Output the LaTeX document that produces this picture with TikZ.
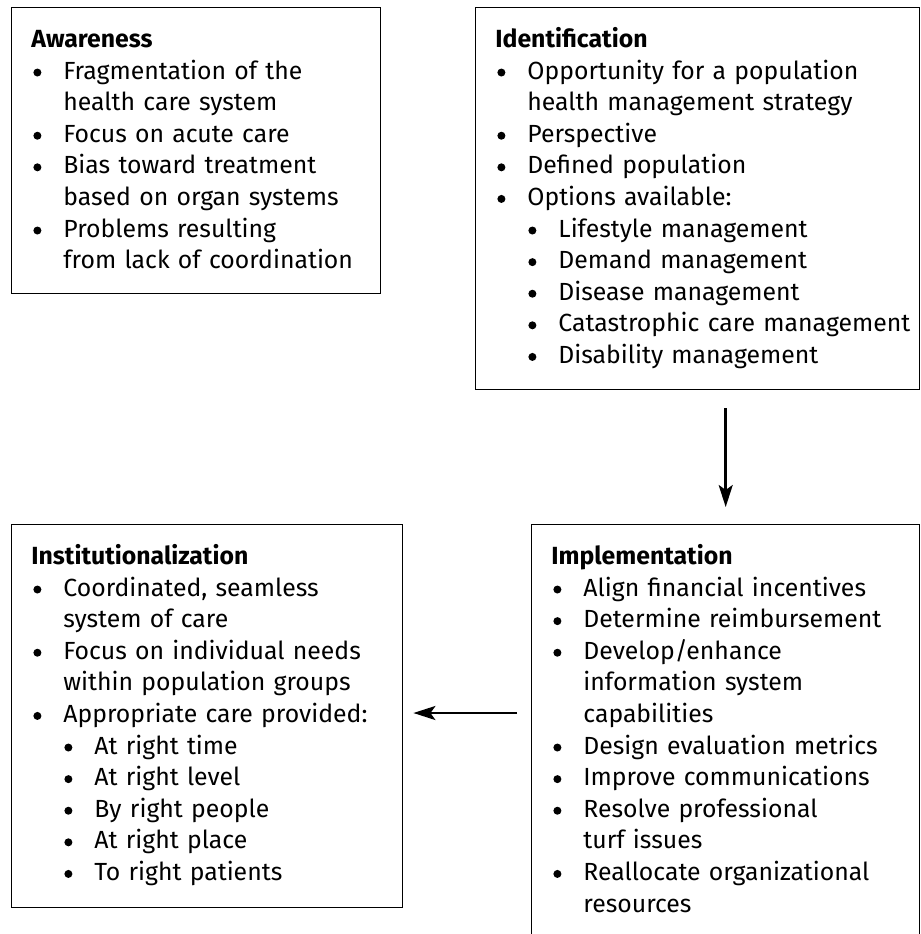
\documentclass[tikz,border=0pt]{standalone}
\usepackage{fontspec}
\setmainfont{Fira Sans}
\usetikzlibrary{arrows.meta}

\newcommand\bdot{\raisebox{1.3pt}{\tikz\fill (0,0) circle (2pt);}}
\newcommand\hd[1]{\noindent\strut\textbf{#1}\par}
\newcommand\bl[1]{\hangindent=16pt\hangafter=1\noindent\makebox[16pt][l]{\hspace{1pt}\bdot}#1\par}
\newcommand\sbl[1]{\hangindent=31.5pt\hangafter=1\noindent\hspace{15.5pt}\makebox[16pt][l]{\hspace{1pt}\bdot}#1\par}

\begin{document}
\begin{tikzpicture}[x=0.5pt,y=-0.5pt,
    box/.style={draw, line width=0.7pt, inner sep=0pt, anchor=north west},
    txt/.style={anchor=north west, inner sep=0pt, text width=250pt, align=left,
        font=\fontsize{12.4}{15.8}\selectfont},
    arr/.style={line width=1.3pt, -{Stealth[length=11pt,width=7pt,inset=2.5pt]}}]

    \useasboundingbox (0,0) rectangle (921,934);

    % the four boxes
    \node[box, minimum width=184.5pt, minimum height=143pt] (aware) at (11,7) {};
    \node[box, minimum width=222pt, minimum height=191pt] (ident) at (475,7) {};
    \node[box, minimum width=195.5pt, minimum height=191.5pt] (inst) at (11,524) {};
    \node[box, minimum width=194pt, minimum height=240pt] (impl) at (531,524) {};

    \node[txt] (aware-txt) at (31,25) {%
        \hd{Awareness}
        \bl{Fragmentation of the\newline health care system}
        \bl{Focus on acute care}
        \bl{Bias toward treatment\newline based on organ systems}
        \bl{Problems resulting\newline from lack of coordination}};

    \node[txt] (ident-txt) at (495,25) {%
        \hd{Identification}
        \bl{Opportunity for a population\newline health management strategy}
        \bl{Perspective}
        \bl{Defined population}
        \bl{Options available:}
        \sbl{Lifestyle management}
        \sbl{Demand management}
        \sbl{Disease management}
        \sbl{Catastrophic care management}
        \sbl{Disability management}};

    \node[txt] (inst-txt) at (31,542) {%
        \hd{Institutionalization}
        \bl{Coordinated, seamless\newline system of care}
        \bl{Focus on individual needs\newline within population groups}
        \bl{Appropriate care provided:}
        \sbl{At right time}
        \sbl{At right level}
        \sbl{By right people}
        \sbl{At right place}
        \sbl{To right patients}};

    \node[txt] (impl-txt) at (551,542) {%
        \hd{Implementation}
        \bl{Align financial incentives}
        \bl{Determine reimbursement}
        \bl{Develop/enhance\newline information system\newline capabilities}
        \bl{Design evaluation metrics}
        \bl{Improve communications}
        \bl{Resolve professional\newline turf issues}
        \bl{Reallocate organizational\newline resources}};

    \coordinate (lvl) at (0,713);

    \draw[arr, shorten <=9pt, shorten >=8.5pt] (ident.south -| impl.north) -- (impl.north);
    \draw[arr, shorten <=7pt, shorten >=5pt] (impl.west |- lvl) -- (inst.east |- lvl);

\end{tikzpicture}
\end{document}
